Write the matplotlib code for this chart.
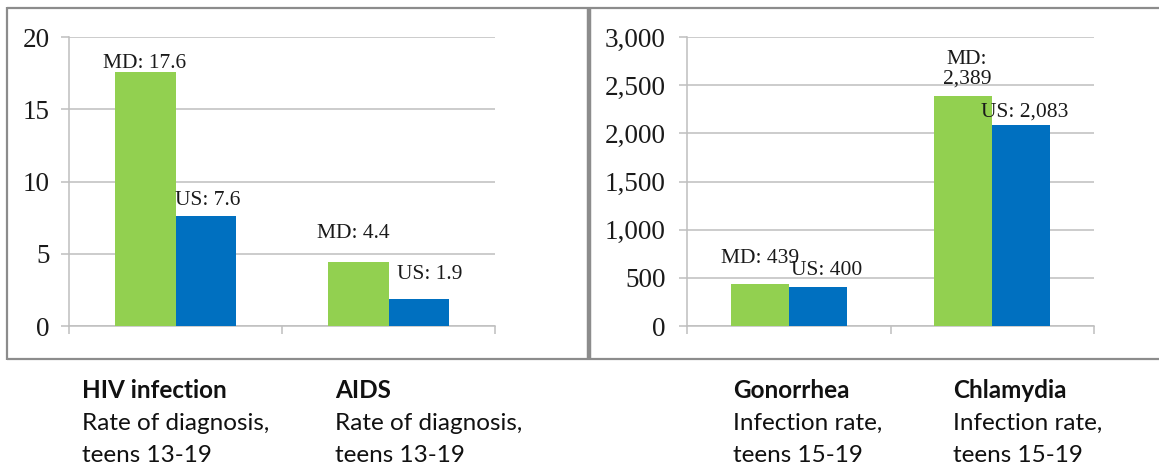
import matplotlib.pyplot as plt
from matplotlib.lines import Line2D
import numpy as np

# data
left_cats = ['HIV infection', 'AIDS']
left_sub = [['Rate of diagnosis,', 'teens 13-19'], ['Rate of diagnosis,', 'teens 13-19']]
left_md = [17.6, 4.4]
left_us = [7.6, 1.9]

right_cats = ['Gonorrhea', 'Chlamydia']
right_sub = [['Infection rate,', 'teens 15-19'], ['Infection rate,', 'teens 15-19']]
right_md = [439, 2389]
right_us = [400, 2083]

GREEN = '#92d050'
BLUE = '#0070c0'
GRID = '#bfbfbf'
FRAME = '#8c8c8c'
W, H = 1159, 465
SERIF = ['Liberation Serif', 'DejaVu Serif']
SANS = ['Lato', 'DejaVu Sans']

plt.rcParams['font.family'] = SERIF

fig = plt.figure(figsize=(W / 100, H / 100), dpi=100)


def px_axes(x0, y0, x1, y1):
    return fig.add_axes([x0 / W, 1 - y1 / H, (x1 - x0) / W, (y1 - y0) / H])


def fline(xs, ys, lw=1.6):
    fig.add_artist(Line2D([x / W for x in xs], [1 - y / H for y in ys],
                          transform=fig.transFigure, color=FRAME, lw=lw,
                          solid_capstyle='butt'))


def bar_panel(ax, md, us, ymax, step, fmt, md_labels, us_labels, md_off, us_off, pad):
    x = np.arange(len(md))
    bw = 0.286
    ax.bar(x - bw / 2, md, bw, color=GREEN, zorder=3)
    ax.bar(x + bw / 2, us, bw, color=BLUE, zorder=3)
    ax.set_xlim(-0.5, len(md) - 0.5)
    ax.set_ylim(0, ymax)
    ax.set_yticks(np.arange(0, ymax + step / 2, step))
    ax.yaxis.set_major_formatter(plt.FuncFormatter(fmt))
    ax.set_xticks(np.arange(-0.5, len(md), 1.0))
    ax.set_xticklabels([])
    ax.grid(axis='y', color=GRID, lw=1.1, zorder=0)
    for s in ['top', 'right']:
        ax.spines[s].set_visible(False)
    for s in ['left', 'bottom']:
        ax.spines[s].set_color(GRID)
        ax.spines[s].set_linewidth(1.1)
    ax.tick_params(axis='y', length=5.8, width=1.1, color=GRID, pad=pad,
                   labelsize=19.5, labelcolor='#1a1a1a')
    ax.tick_params(axis='x', length=5.8, width=1.1, color=GRID)
    for lab in ax.get_yticklabels():
        lab.set_fontfamily(SERIF)
    for i in range(len(md)):
        for xc, v, txt, off in [(x[i] - bw / 2, md[i], md_labels[i], md_off[i]),
                                (x[i] + bw / 2, us[i], us_labels[i], us_off[i])]:
            ax.annotate(txt, (xc, v), xytext=(off[0] * 0.72, off[1] * 0.72),
                        textcoords='offset points', ha='center', va='baseline',
                        fontsize=15.5, color='#1a1a1a',
                        linespacing=1.05, zorder=4)


ax1 = px_axes(69, 37, 495, 326)
bar_panel(ax1, left_md, left_us, 20, 5, lambda v, p: f'{v:.0f}',
          [f'MD: {v}' for v in left_md], [f'US: {v}' for v in left_us],
          [(0, 4), (-5, 24)], [(2, 11), (11, 20)], pad=8)

ax2 = px_axes(687, 37, 1094, 326)
bar_panel(ax2, right_md, right_us, 3000, 500, lambda v, p: f'{v:,.0f}',
          [f'MD: {right_md[0]:,}', f'MD:\n{right_md[1]:,}'],
          [f'US: {v:,}' for v in right_us],
          [(0, 21), (4, 12)], [(9, 12), (3, 9)], pad=9.5)

# frames around the two chart panels
fline([7, 1159], [8, 8])
fline([7, 1159], [359, 359])
fline([7, 7], [7, 360])
fline([589, 589], [7, 360], lw=3.2)

# category captions under the panels
cap_x = [82, 335, 733, 953]
cats = left_cats + right_cats
subs = left_sub + right_sub
for cx, c, sub in zip(cap_x, cats, subs):
    fig.text(cx / W, 1 - 391 / H, c, fontsize=17.5, family=SANS, weight='bold',
             va='center', ha='left', color='#111111')
    for j, s in enumerate(sub):
        fig.text(cx / W, 1 - (423 + 32 * j) / H, s, fontsize=17.5, family=SANS,
                 va='center', ha='left', color='#111111')

fig.savefig('out.png', dpi=100)
